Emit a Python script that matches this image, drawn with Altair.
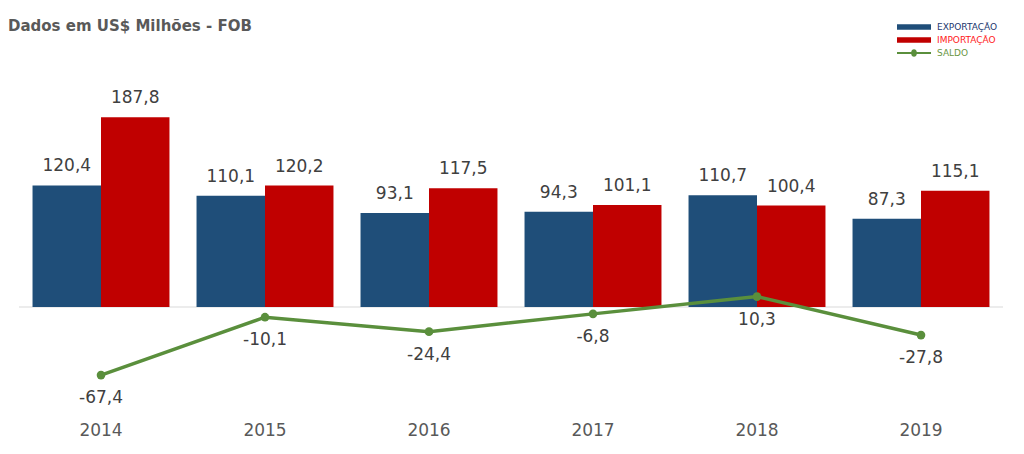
import altair as alt
import pandas as pd

years = ["2014", "2015", "2016", "2017", "2018", "2019"]
exportacao = [120.4, 110.1, 93.1, 94.3, 110.7, 87.3]
importacao = [187.8, 120.2, 117.5, 101.1, 100.4, 115.1]
saldo = [-67.4, -10.1, -24.4, -6.8, 10.3, -27.8]
series = ["EXPORTAÇÃO", "IMPORTAÇÃO", "SALDO"]
colors = ["#1f4e79", "#c00000", "#5a8f3c"]
label_colors = ["#22376e", "#ff1a1a", "#6a963f"]


def fmt(v):
    return f"{v:.1f}".replace(".", ",")


bars_df = pd.DataFrame({
    "ano": years * 2,
    "serie": [series[0]] * len(years) + [series[1]] * len(years),
    "valor": exportacao + importacao,
})
bars_df["rotulo"] = bars_df["valor"].map(fmt)

line_df = pd.DataFrame({"ano": years, "valor": saldo, "serie": series[2]})
line_df["rotulo"] = line_df["valor"].map(fmt)

FONT = "DejaVu Sans"

x = alt.X(
    "ano:N",
    sort=years,
    scale=alt.Scale(paddingInner=0.165, paddingOuter=0.0825),
    axis=alt.Axis(
        title=None, labelFontSize=17, labelColor="#595959", labelFont=FONT,
        domain=False, ticks=False, labelPadding=14, labelAngle=0,
    ),
)
y = alt.Y("valor:Q", scale=alt.Scale(domain=[-100, 200], nice=False, zero=False), axis=None)

label_expr = (
    f"datum.label == '{series[0]}' ? '{label_colors[0]}' : "
    f"(datum.label == '{series[1]}' ? '{label_colors[1]}' : '{label_colors[2]}')"
)
sym_expr = (
    f"datum.label == '{series[2]}' ? "
    "'M-3.4,-0.22H-0.55A0.55,0.55 0 0,1 0.55,-0.22H3.4V0.22H0.55A0.55,0.55 0 0,1 -0.55,0.22H-3.4Z' : "
    "'M-3.4,-0.55H3.4V0.55H-3.4Z'"
)

color = alt.Color(
    "serie:N",
    scale=alt.Scale(domain=series, range=colors),
    legend=alt.Legend(
        title=None, orient="none", legendX=890, legendY=-83,
        labelFontSize=9, labelFont=FONT,
        labelColor=alt.ExprRef(expr=label_expr),
        symbolType=alt.ExprRef(expr=sym_expr),
        symbolSize=100, symbolStrokeWidth=0, labelOffset=18, rowPadding=3,
        padding=0,
    ),
)

xoff = alt.XOffset("serie:N", scale=alt.Scale(domain=series[:2], paddingInner=0, paddingOuter=0))

zero = alt.Chart(pd.DataFrame({"z": [0]})).mark_rule(color="#d9d9d9", strokeWidth=1).encode(
    y=alt.Y("z:Q", scale=alt.Scale(domain=[-100, 200], nice=False, zero=False), axis=None)
)

bars = alt.Chart(bars_df).mark_bar().encode(x=x, y=y, xOffset=xoff, color=color)
bar_text = alt.Chart(bars_df).mark_text(
    baseline="bottom", dy=-10, fontSize=17, font=FONT, color="#404040"
).encode(x=x, y=y, xOffset=xoff, text="rotulo:N")

line = alt.Chart(line_df).mark_line(color=colors[2], strokeWidth=3.5).encode(x=x, y=y)
pts = alt.Chart(line_df).mark_point(filled=True, size=75, color=colors[2], opacity=1).encode(x=x, y=y)
line_text = alt.Chart(line_df).mark_text(
    baseline="top", dy=15, fontSize=17, font=FONT, color="#404040"
).encode(x=x, y=y, text="rotulo:N")

chart = alt.layer(zero, bars, bar_text, line, pts, line_text).properties(
    width=984,
    height=303,
    padding={"left": 11, "top": 97, "right": 10, "bottom": 38},
    autosize=alt.AutoSizeParams(type="none"),
    title=alt.TitleParams(
        "Dados em US$ Milhões - FOB", anchor="start", frame="group", dx=-11, dy=12,
        fontSize=15, font=FONT, fontWeight="bold", color="#595959", offset=0,
    ),
).configure_view(stroke=None)

chart.save("out.html", embed_options={"renderer": "svg", "actions": False})
